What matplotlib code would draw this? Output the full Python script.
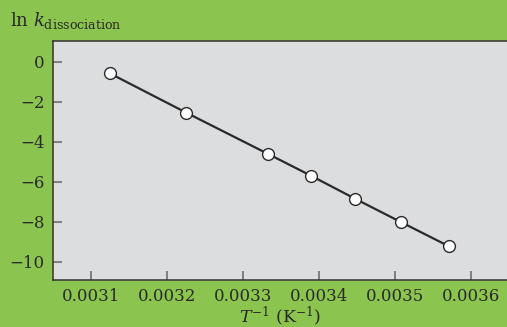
import matplotlib.pyplot as plt
import numpy as np

# data
inv_T = [0.003125, 0.0032258, 0.0033333, 0.0033898, 0.0034483, 0.0035088, 0.0035714]
ln_k = [-0.59, -2.56, -4.62, -5.71, -6.87, -8.04, -9.24]
x_ticks = [0.0031, 0.0032, 0.0033, 0.0034, 0.0035, 0.0036]
x_tick_labels = ['0.0031', '0.0032', '0.0033', '0.0034', '0.0035', '0.0036']
y_ticks = [0, -2, -4, -6, -8, -10]

plt.rcParams['font.family'] = 'DejaVu Serif'
plt.rcParams['mathtext.fontset'] = 'dejavuserif'
plt.rcParams['axes.unicode_minus'] = True

green = '#8bc550'
panel = '#dcdddf'
dark = '#2a2a2a'

fig = plt.figure(figsize=(5.07, 3.27), dpi=100, facecolor=green)
W, H = 507, 327
ax = fig.add_axes([53 / W, (H - 280) / H, (W - 53) / W, (280 - 41) / H])
ax.set_facecolor(panel)

ax.plot(inv_T, ln_k, color=dark, linewidth=1.6, marker='o', markersize=8.5,
        markerfacecolor='white', markeredgecolor=dark, markeredgewidth=1.0, zorder=3)

ax.set_xlim(0.0030504, 0.0036478)
ax.set_ylim(-10.925, 1.025)
ax.set_xticks(x_ticks)
ax.set_xticklabels(x_tick_labels)
ax.set_yticks(y_ticks)
ax.set_yticklabels(['0', '\u22122', '\u22124', '\u22126', '\u22128', '\u221210'])

ax.tick_params(axis='both', direction='in', length=6.5, width=1.1, color='#666666',
               labelsize=12, labelcolor='#2a2a2a', pad=6)

for side in ['left', 'bottom', 'top']:
    ax.spines[side].set_color('#333333')
    ax.spines[side].set_linewidth(1.1)
ax.spines['right'].set_visible(False)

fig.text(10 / W, 1 - 26 / H, r'ln $k_{\mathrm{dissociation}}$', fontsize=13,
         color='#2a2a2a', ha='left', va='baseline')
fig.text(280 / W, 1 - 322 / H, r'$T^{-1}$ (K$^{-1}$)', fontsize=12.5,
         color='#2a2a2a', ha='center', va='baseline')

fig.savefig('out.png', dpi=100, facecolor=green)
